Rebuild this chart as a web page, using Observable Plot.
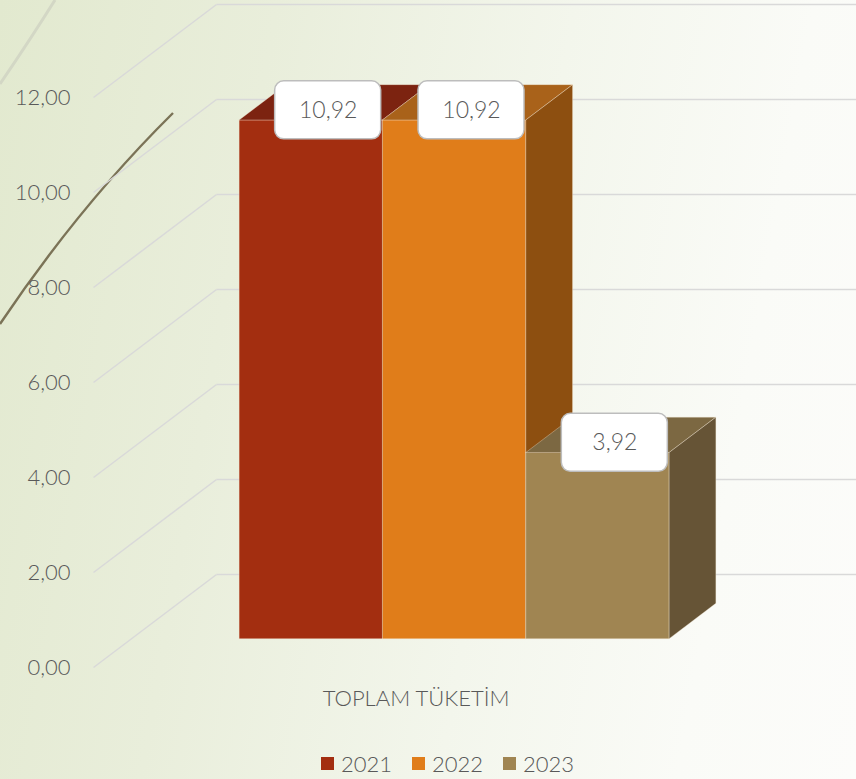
<!DOCTYPE html>
<html>
<head>
<meta charset="utf-8">
<script src="https://cdn.jsdelivr.net/npm/d3@7"></script>
<script src="https://cdn.jsdelivr.net/npm/@observablehq/plot@0.6"></script>
<style>
  html, body { margin: 0; padding: 0; }
  body {
    width: 856px; height: 779px; overflow: hidden; position: relative;
    background: linear-gradient(100deg, #e2e9cf 0%, #e9eedb 28%, #f3f6ec 58%, #fafbf7 82%, #fcfcfa 100%);
    font-family: Lato, "Open Sans", sans-serif; font-weight: 300;
  }
  #deco { position: absolute; left: 0; top: 0; }
  #chart { position: absolute; left: 0; top: 0; }
  #legend { position: absolute; left: 321px; top: 750px; display: flex; font-size: 22px; color: #595959; }
  #legend .item { width: 91px; display: flex; align-items: center; }
  #legend .sw { width: 13px; height: 13px; margin-right: 7px; }
</style>
</head>
<body>
<svg id="deco" width="856" height="779">
  <path d="M55,0 Q30,40 0,84" fill="none" stroke="#d3d7c5" stroke-width="3"/>
  <path d="M0,324 Q80,205 173,113" fill="none" stroke="#7b7357" stroke-width="2.4"/>
</svg>
<div id="chart"></div>
<div id="legend"></div>
<script>
// ---- data ----
const category = "TOPLAM TÜKETİM";
const series = ["2021", "2022", "2023"];
const values = [10.92, 10.92, 3.92];
const labels = ["10,92", "10,92", "3,92"];
const ticks = [0, 2, 4, 6, 8, 10, 12];
const tickLabels = ["0,00", "2,00", "4,00", "6,00", "8,00", "10,00", "12,00"];
const frontColors = ["#a32e10", "#e07d1a", "#a08552"];
const topColors = ["#7c2310", "#a9621a", "#7c6842"];
const sideColors = ["#6a1e0c", "#8d4f10", "#665436"];

// ---- 3D oblique geometry (style) ----
const XMAX = 4.5;               // category width in bar widths (gap 150%)
const DEPTH_X = 123 / 143.33;   // x shift of full depth, in x units
const DEPTH_Y = 93 / 47.5;      // y shift of full depth, in value units
const T0 = 0.31, T1 = 0.69;     // bar front/back depth
const pxX = p => p / 143.33, pxY = p => p / 47.5;
const P = (X, V, T) => ({x: X + T * DEPTH_X, y: V + T * DEPTH_Y});
const FONT = "Lato, 'Open Sans', sans-serif";

const marks = [];

// grid: side wall + back wall
const grid = ticks.map(v => ({a: P(0, v, 0), b: P(0, v, 1), c: P(XMAX, v, 1)}));
marks.push(Plot.link(grid, {x1: d => d.a.x, y1: d => d.a.y, x2: d => d.b.x, y2: d => d.b.y, stroke: "#d9d9d9", strokeWidth: 1.5}));
marks.push(Plot.link(grid, {x1: d => d.b.x, y1: d => d.b.y, x2: d => d.c.x, y2: d => d.c.y, stroke: "#d9d9d9", strokeWidth: 1.5}));

// tick labels
marks.push(Plot.text(ticks, {x: 0, y: d => d, text: (d, i) => tickLabels[i], textAnchor: "end", dx: -23, fontSize: 22, fontWeight: 300, fill: "#595959"}));

// bars
series.forEach((s, i) => {
  const v = values[i];
  const X0 = 0.75 + i, X1 = X0 + 1;
  const front = [P(X0, 0, T0), P(X1, 0, T0), P(X1, v, T0), P(X0, v, T0), P(X0, 0, T0)];
  const top = [P(X0, v, T0), P(X1, v, T0), P(X1, v, T1), P(X0, v, T1), P(X0, v, T0)];
  const side = [P(X1, 0, T0), P(X1, v, T0), P(X1, v, T1), P(X1, 0, T1), P(X1, 0, T0)];
  const style = {x: "x", y: "y", strokeWidth: 1, strokeOpacity: 0.35, stroke: "#f3e6d0"};
  marks.push(Plot.line(front, {...style, fill: frontColors[i]}));
  marks.push(Plot.line(top, {...style, fill: topColors[i]}));
  marks.push(Plot.line(side, {...style, fill: sideColors[i]}));
});

// data labels
const lab = series.map((s, i) => {
  const c = P(0.75 + i + 0.5, values[i], 0.5);
  return {x: c.x - pxX(6), y: c.y - pxY(8), t: labels[i]};
});
marks.push(Plot.rect(lab, {x1: d => d.x - pxX(53), x2: d => d.x + pxX(53), y1: d => d.y - pxY(29), y2: d => d.y + pxY(29), rx: 9, fill: "white", stroke: "#bdbdbd", strokeWidth: 1.5}));
marks.push(Plot.text(lab, {x: "x", y: "y", text: "t", fontSize: 23, fontWeight: 300, fill: "#595959"}));

// category label
marks.push(Plot.text([category], {x: XMAX / 2, y: 0, text: d => d, dy: 31, fontSize: 22, fontWeight: 300, fill: "#595959"}));

const chart = Plot.plot({
  width: 856,
  height: 735,
  margin: 0,
  x: {type: "linear", domain: [0, XMAX], range: [93, 738], axis: null},
  y: {type: "linear", domain: [0, 12], range: [667, 97], axis: null},
  style: {background: "transparent", fontFamily: FONT, overflow: "hidden"},
  marks
});
document.getElementById("chart").appendChild(chart);

// legend
const leg = document.getElementById("legend");
series.forEach((s, i) => {
  const it = document.createElement("div");
  it.className = "item";
  it.innerHTML = `<span class="sw" style="background:${frontColors[i]}"></span><span>${s}</span>`;
  leg.appendChild(it);
});
</script>
</body>
</html>
